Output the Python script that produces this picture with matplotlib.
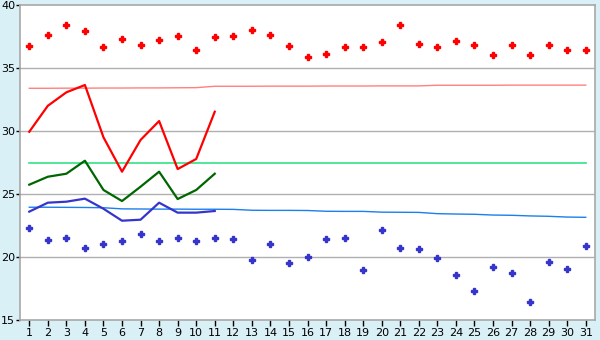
import matplotlib
matplotlib.use("Agg")
import matplotlib.pyplot as plt

days = list(range(1, 32))

# daily extremes (points)
max_pts = [36.72, 37.6, 38.39, 37.91, 36.64, 37.28, 36.8, 37.2, 37.52, 36.4,
           37.44, 37.52, 38.0, 37.6, 36.72, 35.85, 36.09, 36.64, 36.64, 37.04,
           38.39, 36.88, 36.64, 37.12, 36.8, 36.01, 36.8, 36.01, 36.8, 36.4, 36.4]
min_pts = [22.28, 21.33, 21.48, 20.69, 21.0, 21.24, 21.83, 21.24, 21.48, 21.24,
           21.48, 21.4, 19.74, 21.0, 19.5, 19.98, 21.4, 21.48, 18.94, 22.12,
           20.69, 20.61, 19.9, 18.55, 17.28, 19.18, 18.7, 16.4, 19.58, 19.02, 20.85]

# observed lines, days 1-11
obs_days = list(range(1, 12))
obs_max = [29.94, 32.0, 33.07, 33.65, 29.5, 26.77, 29.29, 30.79, 26.98, 27.78, 31.53]
obs_mean = [25.74, 26.37, 26.61, 27.64, 25.32, 24.44, 25.58, 26.77, 24.6, 25.32, 26.61]
obs_min = [23.6, 24.31, 24.39, 24.63, 23.83, 22.88, 22.96, 24.31, 23.52, 23.52, 23.65]

# normals
norm_max = [33.39, 33.39, 33.4, 33.4, 33.41, 33.41, 33.42, 33.42, 33.43, 33.44,
            33.55, 33.55, 33.55, 33.56, 33.56, 33.56, 33.57, 33.57, 33.57, 33.58,
            33.58, 33.58, 33.63, 33.63, 33.63, 33.63, 33.64, 33.64, 33.64, 33.64, 33.64]
norm_mean = [27.44] * 31
norm_min = [23.95, 23.95, 23.94, 23.93, 23.91, 23.82, 23.81, 23.8, 23.8, 23.79,
            23.79, 23.78, 23.71, 23.7, 23.7, 23.69, 23.63, 23.62, 23.62, 23.56,
            23.55, 23.54, 23.44, 23.41, 23.39, 23.33, 23.31, 23.26, 23.23, 23.17, 23.15]

fig = plt.figure(figsize=(6, 3.4), dpi=100)
fig.patch.set_facecolor('#daf0f7')
ax = fig.add_axes([20 / 600, 1 - 320 / 340, 575 / 600, 315 / 340])
ax.set_facecolor('white')

for y in [20, 25, 30, 35]:
    ax.axhline(y, color='#b0b0b0', lw=1.0, zorder=1)

ax.plot(days, norm_max, color='#ff8080', lw=1.0, zorder=2)
ax.plot(days, norm_mean, color='#33e385', lw=1.2, zorder=2)
ax.plot(days, norm_min, color='#1a7fef', lw=1.0, zorder=2)

ax.plot(obs_days, obs_max, color='#ff0000', lw=1.6, zorder=3)
ax.plot(obs_days, obs_mean, color='#006600', lw=1.6, zorder=3)
ax.plot(obs_days, obs_min, color='#3535cc', lw=1.6, zorder=3)

ax.plot(days, max_pts, ls='none', marker='P', ms=4.3, color='#ff0000', zorder=4)
ax.plot(days, min_pts, ls='none', marker='P', ms=4.3, color='#3535cc', zorder=4)

ax.set_xlim(0.5, 31.5)
ax.set_ylim(15, 40)
ax.set_xticks(days)
ax.set_yticks([15, 20, 25, 30, 35, 40])
ax.tick_params(axis='both', labelsize=8, colors='black', width=1, direction='out')
ax.tick_params(axis='y', pad=0.5, length=3)
ax.tick_params(axis='x', pad=2, length=4)
for s in ax.spines.values():
    s.set_color('#a8a8a8')
    s.set_linewidth(1.2)

fig.savefig('out.png', dpi=100, facecolor=fig.get_facecolor())
